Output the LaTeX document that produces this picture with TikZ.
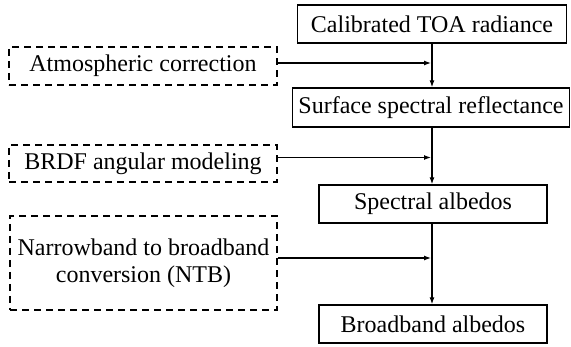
\documentclass[tikz,border=0pt]{standalone}
\usepackage{fontspec}
\newfontfamily\timesfont{Liberation Serif}[Ligatures=NoCommon]
\usetikzlibrary{arrows.meta}
\tikzset{
  label text/.style={font=\fontsize{24}{27.5}\selectfont\timesfont},
  stage/.style={draw, line width=1.4pt, inner sep=0pt, align=center, label text},
  aux/.style={draw, line width=1.4pt, inner sep=0pt, align=center, label text, dash pattern=on 7pt off 5pt},
  flow/.style={line width=1.2pt, -{Latex[length=7pt,width=5pt]}}
}
\begin{document}
\begin{tikzpicture}[x=1pt, y=-1pt]
      \useasboundingbox (0,0) rectangle (571,347);
      \node[stage, minimum width=269pt, minimum height=38pt] (toa) at (432,24) {Calibrated TOA radiance};
      \node[stage, minimum width=277pt, minimum height=39pt] (refl) at (431,107.5) {Surface spectral reflectance};
      \node[stage, minimum width=228pt, minimum height=38pt] (spec) at (433,204) {Spectral albedos};
      \node[stage, minimum width=228pt, minimum height=38pt] (broad) at (433,324) {Broadband albedos};
      \node[aux, minimum width=268pt, minimum height=38pt] (atm) at (143,66) {Atmospheric correction};
      \node[aux, minimum width=268pt, minimum height=37pt] (brdf) at (143,163.5) {BRDF angular modeling};
      \node[aux, minimum width=267pt, minimum height=94pt] (ntb) at (143.5,263) {Narrowband to broadband\\conversion (NTB)};
      % main chain
      \draw[flow] (toa.south -| 432,0) -- (refl.north -| 432,0);
      \draw[flow] (refl.south -| 432,0) -- (spec.north -| 432,0);
      \draw[flow] (spec.south -| 432,0) -- (broad.north -| 432,0);
      % side inputs
      \draw[flow] ([yshift=3pt]atm.east) -- ([yshift=3pt]atm.east -| 431,0);
      \draw[flow] ([yshift=6pt]brdf.east) -- ([yshift=6pt]brdf.east -| 431,0);
      \draw[flow] ([yshift=5pt]ntb.east) -- ([yshift=5pt]ntb.east -| 431,0);
\end{tikzpicture}
\end{document}
